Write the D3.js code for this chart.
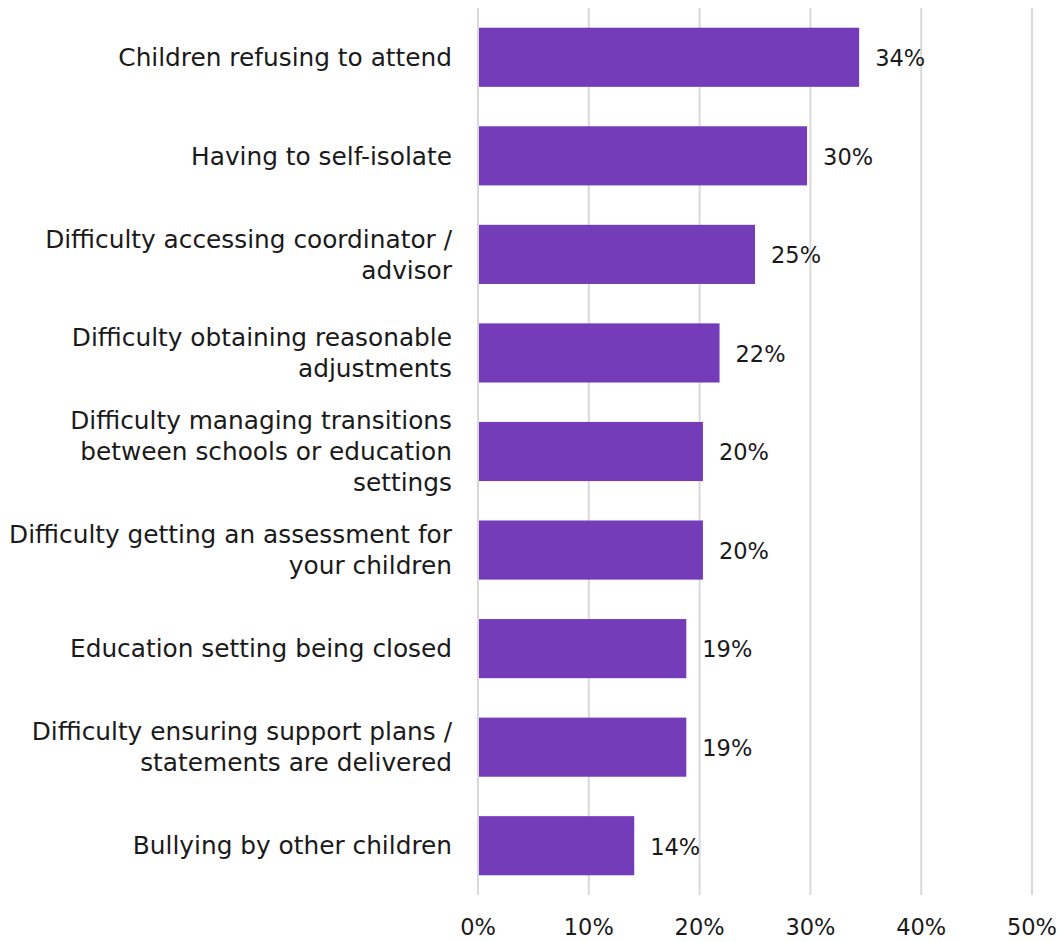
<!DOCTYPE html>
<html>
<head>
<meta charset="utf-8">
<script src="https://cdn.jsdelivr.net/npm/d3@7"></script>
<style>
  html, body { margin: 0; padding: 0; background: #fff; }
  svg { display: block; }
  text { font-family: "DejaVu Sans", "Noto Sans", sans-serif; fill: #1a1a1a; }
</style>
</head>
<body>
<svg id="chart" width="1058" height="942"></svg>
<script>
// Categories (line breaks mark where each label wraps)
const categories = [
  "Children refusing to attend",
  "Having to self-isolate",
  "Difficulty accessing coordinator /\nadvisor",
  "Difficulty obtaining reasonable\nadjustments",
  "Difficulty managing transitions\nbetween schools or education\nsettings",
  "Difficulty getting an assessment for\nyour children",
  "Education setting being closed",
  "Difficulty ensuring support plans /\nstatements are delivered",
  "Bullying by other children"
];
// Share of respondents reporting each difficulty
const values = [0.344, 0.297, 0.250, 0.218, 0.203, 0.203, 0.188, 0.188, 0.141];
const xTicks = [0, 0.1, 0.2, 0.3, 0.4, 0.5];

(function draw() {
  const svg = d3.select("#chart");
  const plotLeft = 478, plotRight = 1032, plotTop = 8, plotBottom = 895;
  const barColor = "#743cb9";
  const gridColor = "#d9d9d9";
  const labelSize = 24.8;
  const numSize = 22.5;

  const x = d3.scaleLinear().domain([0, 0.5]).range([plotLeft, plotRight]);
  const y = d3.scaleBand().domain(categories).range([plotTop, plotBottom])
    .paddingInner(0.4).paddingOuter(0.2);
  const pct = d3.format(".0%");

  // Vertical gridlines
  svg.append("g").selectAll("line").data(xTicks).join("line")
    .attr("x1", d => x(d)).attr("x2", d => x(d))
    .attr("y1", plotTop).attr("y2", plotBottom)
    .attr("stroke", gridColor).attr("stroke-width", 2);

  // Bars
  svg.append("g").selectAll("rect").data(categories).join("rect")
    .attr("x", x(0) + 1)
    .attr("y", d => y(d))
    .attr("width", (d, i) => x(values[i]) - x(0) - 1)
    .attr("height", y.bandwidth())
    .attr("fill", barColor);

  // Value labels
  svg.append("g").selectAll("text").data(categories).join("text")
    .attr("x", (d, i) => x(values[i]) + 16)
    .attr("y", d => y(d) + y.bandwidth() / 2 + 1)
    .attr("dy", "0.35em")
    .attr("font-size", numSize)
    .text((d, i) => pct(values[i]));

  // Category labels, right-aligned, wrapped onto lines
  const lineH = 31;
  const cat = svg.append("g").selectAll("text").data(categories).join("text")
    .attr("text-anchor", "end")
    .attr("font-size", labelSize);
  cat.each(function(d) {
    const lines = d.split("\n");
    const cy = y(d) + y.bandwidth() / 2;
    const t = d3.select(this);
    lines.forEach((ln, k) => {
      t.append("tspan")
        .attr("x", plotLeft - 26)
        .attr("y", cy + (k - (lines.length - 1) / 2) * lineH)
        .attr("dy", "0.35em")
        .text(ln);
    });
  });

  // X axis tick labels
  svg.append("g").selectAll("text").data(xTicks).join("text")
    .attr("x", d => x(d))
    .attr("y", 927)
    .attr("dy", "0.35em")
    .attr("text-anchor", "middle")
    .attr("font-size", numSize)
    .text(d => pct(d));
})();
</script>
</body>
</html>
